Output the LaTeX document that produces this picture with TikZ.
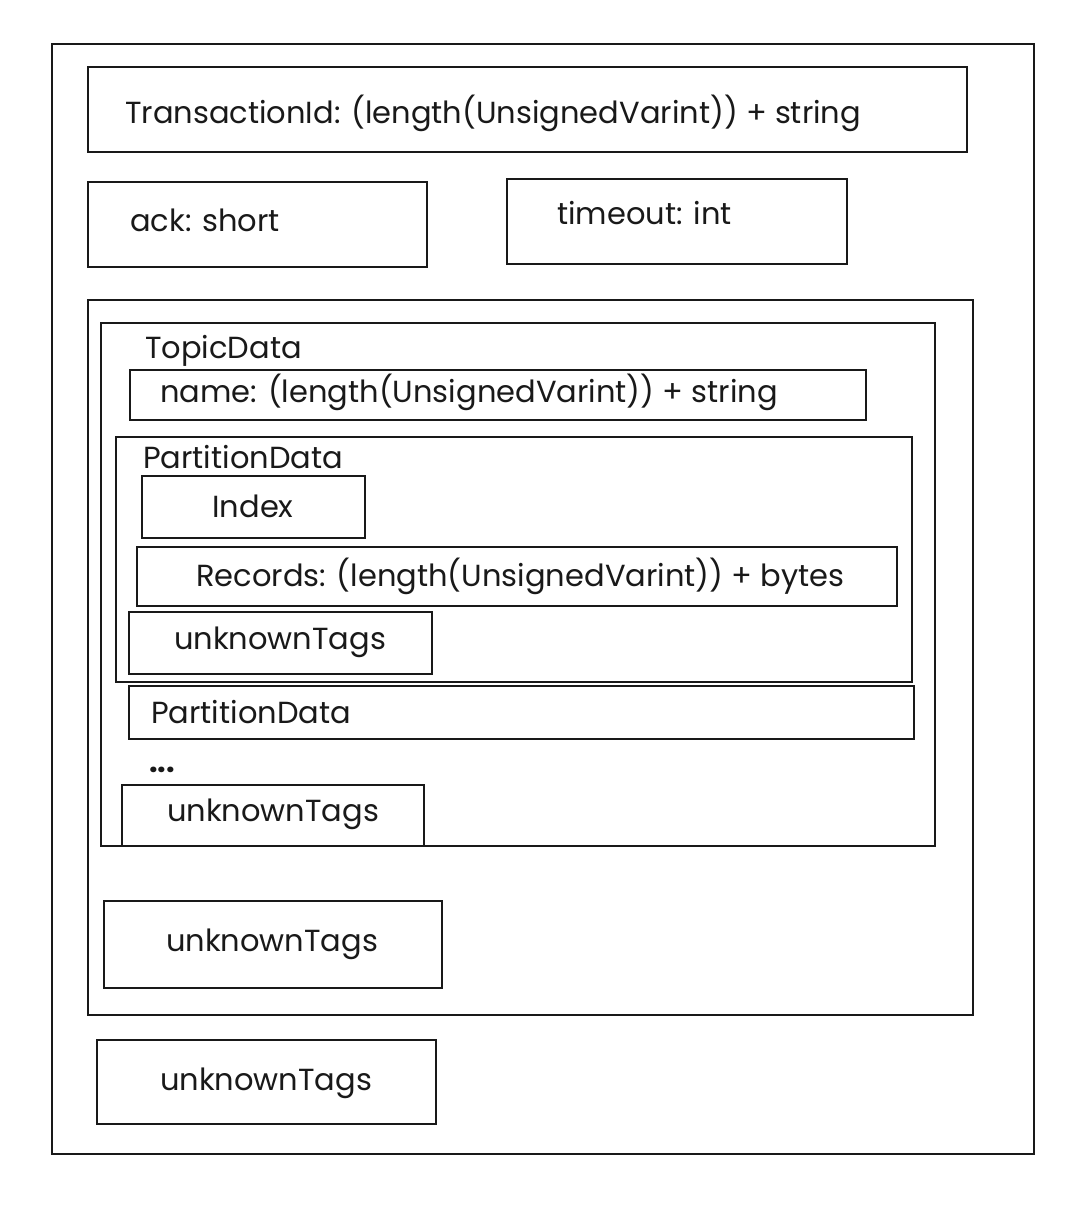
\documentclass[tikz,border=0pt]{standalone}
\usepackage{fontspec}
\setmainfont{Poppins}
\usetikzlibrary{fit}
\tikzset{
  box/.style={draw=black!90, line width=2pt, inner sep=0pt, fill=none},
  lbl/.style={font=\fontsize{30.5}{32}\selectfont, inner sep=0pt, text=black!90},
}
\begin{document}
\begin{tikzpicture}[x=1pt,y=-1pt]
\useasboundingbox[fill=white] (0,0) rectangle (1082,1216);
% outer
\node[box, fit={(52,44) (1034,1154)}] (outer) {};
% top fields
\node[box, fit={(88,67) (967,152)}] (txid) {};
\node[lbl, anchor=west] (txidt) at (125,113) {TransactionId: (length(UnsignedVarint)) + string};
\node[box, fit={(88,182) (427,267)}] (ack) {};
\node[lbl, anchor=west] (ackt) at (130,220) {ack: short};
\node[box, fit={(507,179) (847,264)}] (timeout) {};
\node[lbl, anchor=west] (timeoutt) at (557,213) {timeout: int};
% topic array
\node[box, fit={(88,300) (973,1015)}] (topics) {};
\node[box, fit={(101,323) (935,846)}] (topic) {};
\node[lbl, anchor=west] (topict) at (145,351) {TopicData};
\node[box, fit={(130,370) (866,420)}] (name) {};
\node[lbl, anchor=west] (namet) at (160,392) {name: (length(UnsignedVarint)) + string};
% partition data
\node[box, fit={(116,437) (912,682)}] (part) {};
\node[lbl, anchor=west] (partt) at (143,457) {PartitionData};
\node[box, fit={(142,476) (365,538)}] (index) {};
\node[lbl] (indext) at (253,506) {Index};
\node[box, fit={(137,547) (897,606)}] (records) {};
\node[lbl, anchor=west] (recordst) at (196,576) {Records: (length(UnsignedVarint)) + bytes};
\node[box, fit={(129,612) (432,674)}] (ptags) {};
\node[lbl] (ptagst) at (280,642) {unknownTags};
\node[box, fit={(129,686) (914,739)}] (part2) {};
\node[lbl, anchor=west] (part2t) at (151,712) {PartitionData};
\node[lbl, anchor=west, font=\fontsize{30.5}{32}\selectfont\bfseries] (dots) at (149,770) {...};
\node[box, fit={(122,785) (424,846)}] (ttags) {};
\node[lbl] (ttagst) at (273,814) {unknownTags};
\node[box, fit={(104,901) (442,988)}] (atags) {};
\node[lbl] (atagst) at (272,944) {unknownTags};
\node[box, fit={(97,1040) (436,1124)}] (rtags) {};
\node[lbl] (rtagst) at (266,1083) {unknownTags};
\end{tikzpicture}
\end{document}
